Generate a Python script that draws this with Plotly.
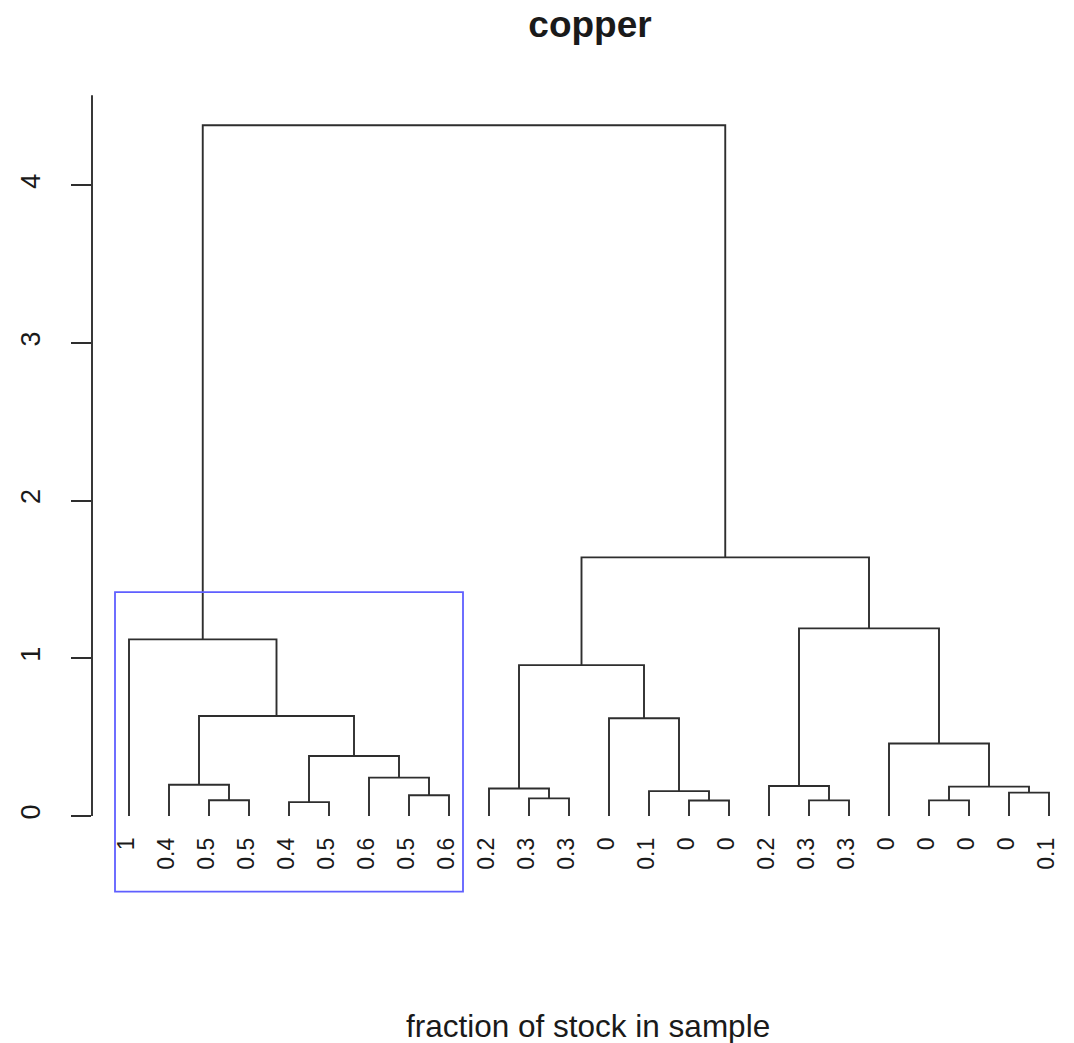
import plotly.graph_objects as go

# Leaf labels in display order (fraction of stock in sample)
leaf_labels = ["1", "0.4", "0.5", "0.5", "0.4", "0.5", "0.6", "0.5", "0.6",
               "0.2", "0.3", "0.3", "0", "0.1", "0", "0",
               "0.2", "0.3", "0.3", "0", "0", "0", "0", "0.1"]

# hclust-style merge table: negative = leaf index, positive = earlier merge step
merge_a = [-5, -3, -15, -18, -21, -11, -8, -23, -14, -10, 5, -17, -2, -7, 1, -20, -13, 13, 10, -1, 12, 19, 20]
merge_b = [-6, -4, -16, -19, -22, -12, -9, -24, 3, 6, 8, 4, 2, 7, 14, 11, 9, 15, 17, 18, 16, 21, 22]
merge_height = [0.088, 0.10, 0.098, 0.099, 0.099, 0.112, 0.132, 0.148, 0.158, 0.174,
                0.186, 0.19, 0.198, 0.243, 0.38, 0.46, 0.62, 0.634, 0.957, 1.12,
                1.19, 1.64, 4.38]

# Highlighted cluster (rect.hclust): leaves 1..9, drawn up to this height
box_leaves = (1, 9)
box_top = 1.42
box_bottom = -0.48

y_ticks = [0, 1, 2, 3, 4]


def node_pos(ref, xs):
    if ref < 0:
        return float(-ref), 0.0
    return xs[ref - 1], merge_height[ref - 1]


node_x = []
seg_x, seg_y = [], []
for a, b, h in zip(merge_a, merge_b, merge_height):
    xa, ya = node_pos(a, node_x)
    xb, yb = node_pos(b, node_x)
    seg_x += [xa, xa, xb, xb, None]
    seg_y += [ya, h, h, yb, None]
    node_x.append((xa + xb) / 2)

LINE = "#2e2e2e"

fig = go.Figure()
fig.add_trace(go.Scatter(x=seg_x, y=seg_y, mode="lines",
                         line=dict(color=LINE, width=1.9),
                         hoverinfo="skip", showlegend=False))

annotations = []
for i, lab in enumerate(leaf_labels, start=1):
    annotations.append(dict(x=i, y=-0.125, xref="x", yref="y", text=lab,
                            showarrow=False, textangle=-90, xanchor="center",
                            yanchor="top", xshift=-3,
                            font=dict(family="Liberation Sans, Arial", size=23, color="#1a1a1a")))

annotations.append(dict(x=0.51, y=-0.1556, xref="paper", yref="paper",
                        text="fraction of stock in sample", showarrow=False,
                        xanchor="center", yanchor="middle",
                        font=dict(family="Liberation Sans, Arial", size=31.5, color="#1a1a1a")))

shapes = [
    # y axis line spanning the tree's height range
    dict(type="line", xref="paper", yref="y", x0=0, x1=0, y0=0, y1=4.57,
         line=dict(color=LINE, width=1.9)),
    # box around the selected cluster
    dict(type="rect", xref="x", yref="y",
         x0=box_leaves[0] - 0.35, x1=box_leaves[1] + 0.35,
         y0=box_bottom, y1=box_top,
         line=dict(color="rgb(95,95,255)", width=1.8)),
]

fig.update_layout(
    width=1074, height=1043,
    margin=dict(l=92, r=10, t=90, b=143),
    plot_bgcolor="white", paper_bgcolor="white",
    title=dict(text="<b>copper</b>", xref="container", yref="container",
               x=590 / 1074, y=1 - 24 / 1043, xanchor="center", yanchor="middle",
               font=dict(family="Liberation Sans, Arial", size=37, color="#1a1a1a")),
    xaxis=dict(range=[0.075, 24.375], visible=False),
    yaxis=dict(range=[-0.5327, 4.6037], tickvals=y_ticks,
               ticktext=[str(v) for v in y_ticks],
               ticks="outside", ticklen=20, tickwidth=1.9, tickcolor=LINE,
               tickangle=-90, ticklabelstandoff=20,
               tickfont=dict(family="Liberation Sans, Arial", size=27, color="#1a1a1a"),
               showgrid=False, zeroline=False, showline=False),
    annotations=annotations,
    shapes=shapes,
)

fig.write_html("out.html")
